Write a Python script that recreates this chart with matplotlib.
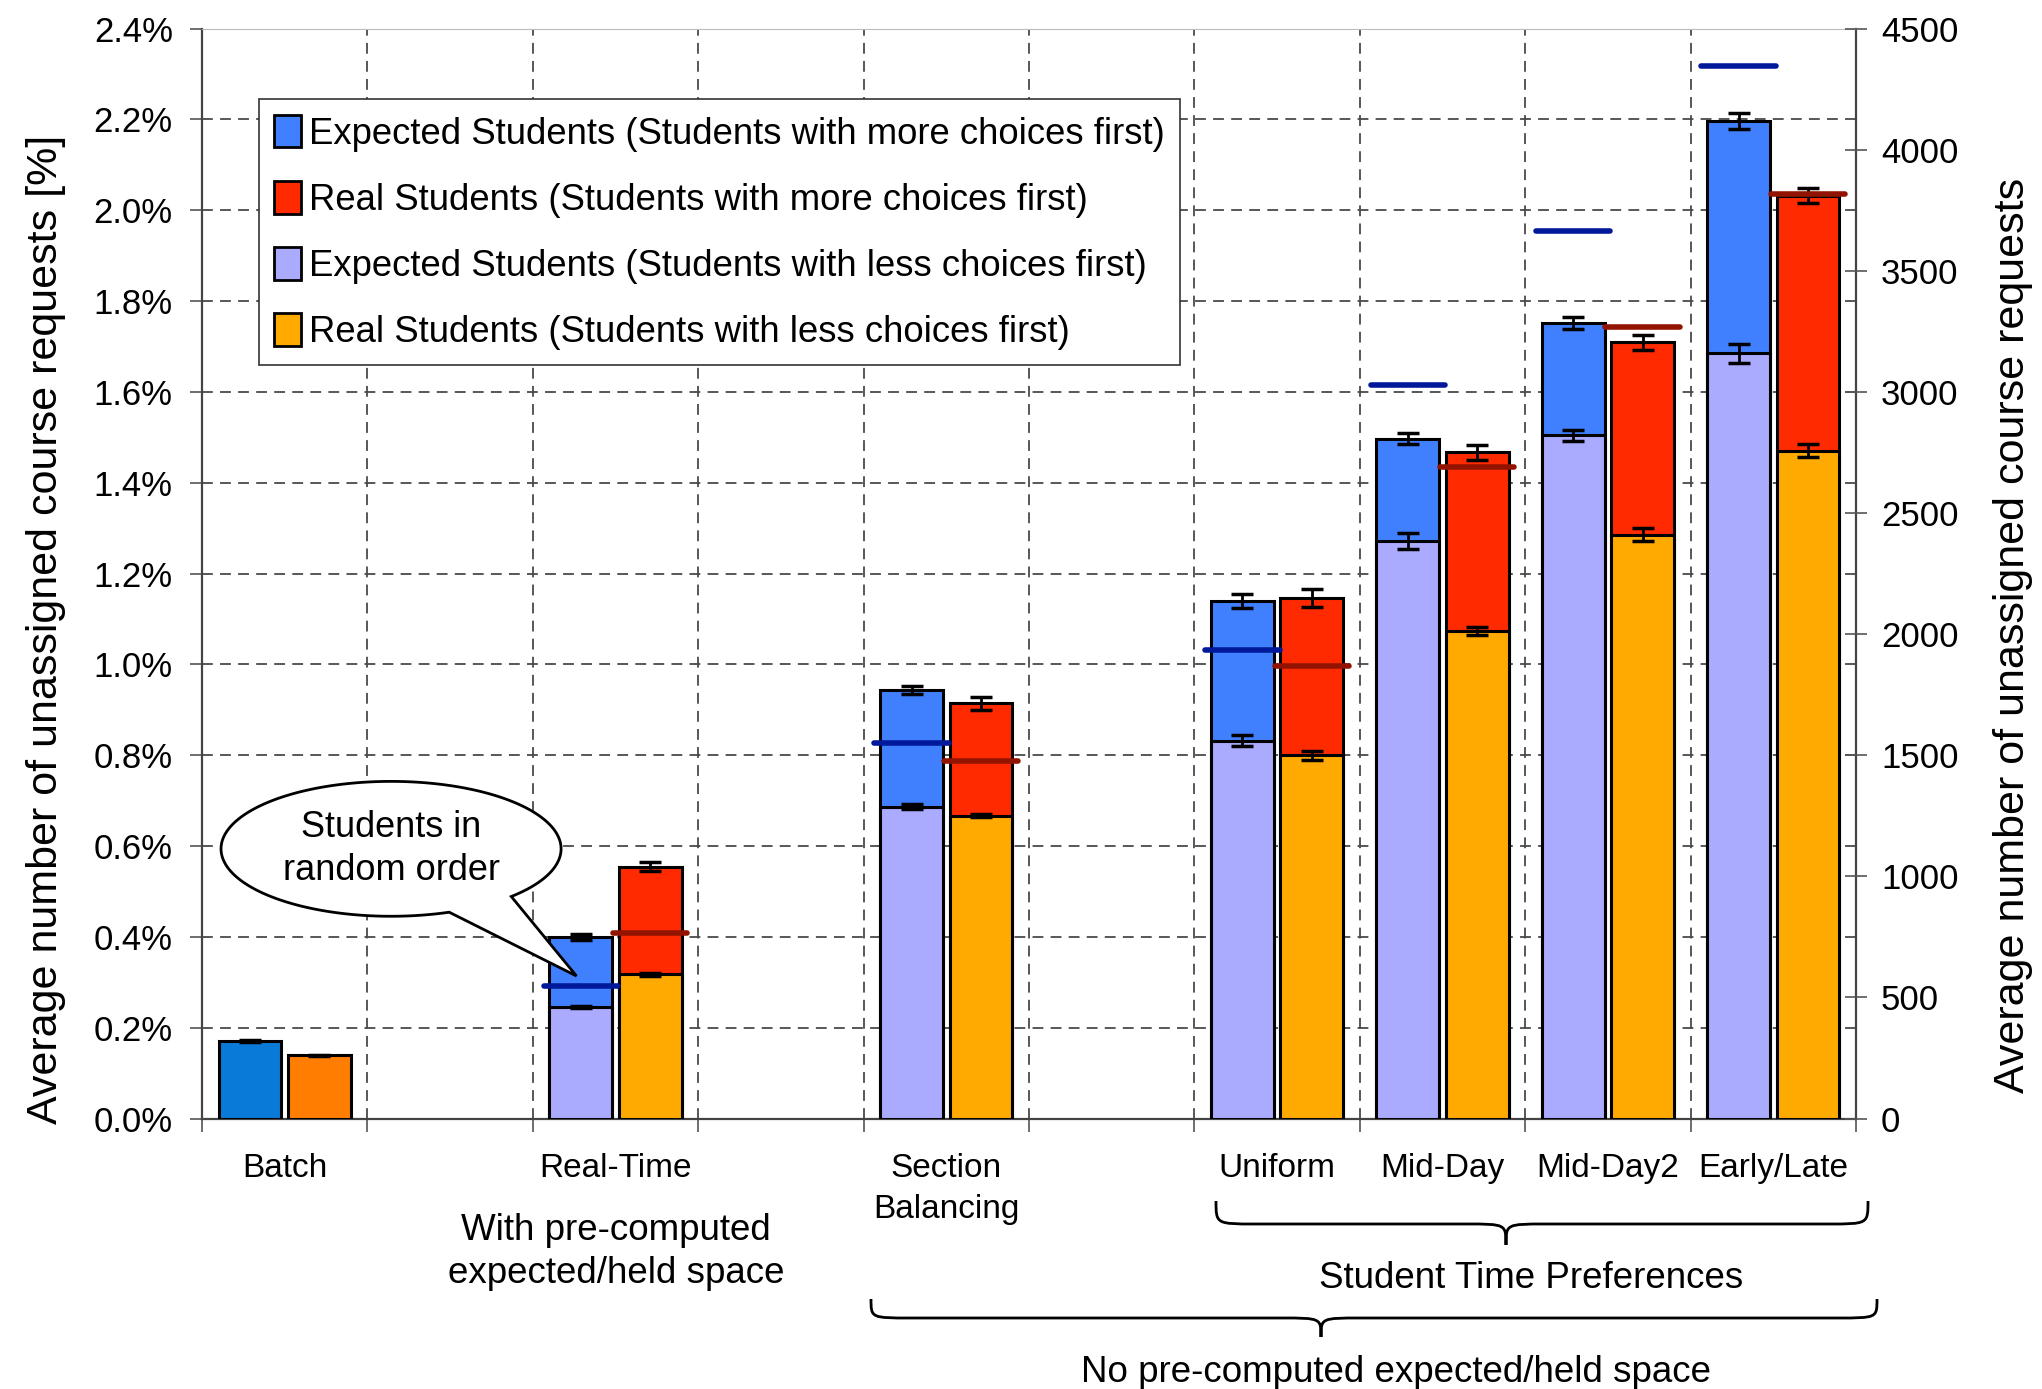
import matplotlib
matplotlib.use("Agg")
import matplotlib.pyplot as plt
import numpy as np
from matplotlib import font_manager
from matplotlib.patches import Patch, Polygon, PathPatch
from matplotlib.path import Path

installed = {f.name for f in font_manager.fontManager.ttflist}
NARROW = "Liberation Sans Narrow" if "Liberation Sans Narrow" in installed else "Liberation Sans"
REGULAR = "Liberation Sans"
plt.rcParams["font.family"] = [NARROW, "DejaVu Sans"]

# data (values in % of all course requests)
categories = ["Batch", "Real-Time", "Section\nBalancing", "Uniform", "Mid-Day", "Mid-Day2", "Early/Late"]
batch_expected = 0.171
batch_real = 0.139
batch_err = 0.002

exp_more = [0.400, 0.944, 1.140, 1.497, 1.751, 2.197]
exp_less = [0.246, 0.687, 0.832, 1.272, 1.505, 1.685]
real_more = [0.555, 0.914, 1.146, 1.467, 1.709, 2.032]
real_less = [0.318, 0.667, 0.800, 1.074, 1.286, 1.471]
exp_random = [0.293, 0.828, 1.031, 1.616, 1.955, 2.317]
real_random = [0.409, 0.787, 0.997, 1.435, 1.744, 2.036]

exp_more_err = [0.007, 0.008, 0.016, 0.012, 0.013, 0.018]
exp_less_err = [0.003, 0.005, 0.012, 0.018, 0.012, 0.021]
real_more_err = [0.009, 0.014, 0.020, 0.017, 0.016, 0.016]
real_less_err = [0.003, 0.004, 0.010, 0.009, 0.015, 0.015]

legend_labels = [
    "Expected Students (Students with more choices first)",
    "Real Students (Students with more choices first)",
    "Expected Students (Students with less choices first)",
    "Real Students (Students with less choices first)",
]

# layout: which of the 10 slots each category sits in
slots = [0, 2, 4, 6, 7, 8, 9]
c_blue, c_red, c_lav, c_orange = "#4080ff", "#ff2a00", "#aaaaff", "#ffaa00"
c_batch_blue, c_batch_orange = "#0a7ad8", "#ff7d00"
c_line_blue, c_line_red = "#00189a", "#921400"

W, H = 2042, 1389
fig = plt.figure(figsize=(W / 100, H / 100), dpi=100)
fig.patch.set_facecolor("white")
ax = fig.add_axes([202 / W, 1 - 1118.6 / H, (1856 - 202) / W, (1118.6 - 28.6) / H])
ax.set_facecolor("none")

off, bw = 0.21, 0.38
ekw = dict(ecolor="black", elinewidth=2, capsize=8, capthick=2.5)

bx = slots[0]
ax.bar(bx - off, batch_expected, bw, yerr=batch_err, color=c_batch_blue, edgecolor="black", linewidth=2.2, error_kw=ekw, zorder=3)
ax.bar(bx + off, batch_real, bw, yerr=batch_err, color=c_batch_orange, edgecolor="black", linewidth=2.2, error_kw=ekw, zorder=3)

xs = np.array(slots[1:], dtype=float)
ax.bar(xs - off, exp_more, bw, yerr=exp_more_err, color=c_blue, edgecolor="black", linewidth=2.2, error_kw=ekw, zorder=3)
ax.bar(xs - off, exp_less, bw, yerr=exp_less_err, color=c_lav, edgecolor="black", linewidth=2.2, error_kw=ekw, zorder=3)
ax.bar(xs + off, real_more, bw, yerr=real_more_err, color=c_red, edgecolor="black", linewidth=2.2, error_kw=ekw, zorder=3)
ax.bar(xs + off, real_less, bw, yerr=real_less_err, color=c_orange, edgecolor="black", linewidth=2.2, error_kw=ekw, zorder=3)

# students in random order
lw_half = 0.225
ax.hlines(exp_random, xs - off - lw_half, xs - off + lw_half, colors=c_line_blue, linewidth=4, capstyle="round", zorder=5)
ax.hlines(real_random, xs + off - lw_half, xs + off + lw_half, colors=c_line_red, linewidth=4, capstyle="round", zorder=5)

ax.set_xlim(-0.5, 9.5)
ax.set_ylim(0, 2.4)
ax.set_yticks(np.arange(0, 2.41, 0.2))
ax.set_yticklabels([f"{v:.1f}%" for v in np.arange(0, 2.41, 0.2)], fontsize=25)
ax.set_xticks(slots)
ax.set_xticklabels(categories, fontsize=24, linespacing=1.4)
ax.set_xticks(np.arange(-0.5, 10, 1), minor=True)
ax.tick_params(axis="x", which="major", length=0, pad=25)
ax.tick_params(axis="x", which="minor", length=9, width=1.2, color="#555555", direction="out")
ax.tick_params(axis="y", length=9, width=1.2, color="#555555", direction="out", pad=12)
ax.grid(True, which="major", axis="y", linestyle=(0, (6, 4)), color="#4a4a4a", linewidth=1.3, zorder=0)
ax.grid(True, which="minor", axis="x", linestyle=(0, (6, 4)), color="#4a4a4a", linewidth=1.3, zorder=0)
ax.set_axisbelow(True)
for s in ["left", "bottom", "right"]:
    ax.spines[s].set_color("#444444")
    ax.spines[s].set_linewidth(1.6)
ax.spines["top"].set_color("#bbbbbb")
ax.set_ylabel("Average number of unassigned course requests [%]", fontsize=31, family=[REGULAR, "DejaVu Sans"])
ax.yaxis.set_label_coords(-0.082, 0.449)

ax2 = ax.twinx()
ax2.set_ylim(0, 4500)
ax2.set_yticks(np.arange(0, 4501, 500))
ax2.set_yticklabels([str(v) for v in range(0, 4501, 500)], fontsize=25)
ax2.tick_params(axis="y", length=16, width=1.2, color="#555555", direction="inout", pad=10)
for s in ax2.spines.values():
    s.set_visible(False)
ax2.set_ylabel("Average number of unassigned course requests", fontsize=31, family=[REGULAR, "DejaVu Sans"])
ax2.yaxis.set_label_coords(1.083, 0.443)

handles = [Patch(facecolor=c, edgecolor="black", linewidth=2) for c in [c_blue, c_red, c_lav, c_orange]]
leg = ax.legend(handles, legend_labels, loc="upper left", bbox_to_anchor=(0.0345, 0.935), fontsize=26.3,
                frameon=True, fancybox=False, framealpha=1, edgecolor="#333333", borderaxespad=0,
                handlelength=0.72, handleheight=1.0, handletextpad=0.22, labelspacing=0.8, borderpad=0.42)
leg.get_frame().set_linewidth(1.2)
leg.set_zorder(10)

# speech balloon
cx, cy, a, b = 0.643, 0.594, 1.028, 0.1485
tip = (1.764, 0.314)
th = np.radians(np.linspace(-45, 290, 200))
pts = np.column_stack([cx + a * np.cos(th), cy + b * np.sin(th)])
pts = np.vstack([pts, tip])
ax.add_patch(Polygon(pts, closed=True, facecolor="white", edgecolor="black", linewidth=2, zorder=8))
ax.text(cx, cy, "Students in\nrandom order", ha="center", va="center", fontsize=26,
        family=[REGULAR, "DejaVu Sans"], linespacing=1.3, zorder=9)


def brace(x0, x1, tip_x, y_top, y_mid, y_tip):
    r = 40
    verts = [(x0, y_top), (x0, y_mid), (x0, y_mid), (x0 + r, y_mid),
             (tip_x - r, y_mid), (tip_x, y_mid), (tip_x, y_mid), (tip_x, y_tip),
             (tip_x, y_mid), (tip_x, y_mid), (tip_x + r, y_mid),
             (x1 - r, y_mid), (x1, y_mid), (x1, y_mid), (x1, y_top)]
    codes = [Path.MOVETO, Path.CURVE4, Path.CURVE4, Path.CURVE4,
             Path.LINETO, Path.CURVE4, Path.CURVE4, Path.CURVE4,
             Path.CURVE4, Path.CURVE4, Path.CURVE4,
             Path.LINETO, Path.CURVE4, Path.CURVE4, Path.CURVE4]
    verts = [(x / W, 1 - y / H) for x, y in verts]
    fig.add_artist(PathPatch(Path(verts, codes), facecolor="none", edgecolor="black", linewidth=2,
                             transform=fig.transFigure, clip_on=False))


brace(1216, 1868, 1506, 1201, 1224, 1245)
brace(871, 1877, 1321, 1299, 1318, 1337)

fig.text(616 / W, 1 - 1252 / H, "With pre-computed\nexpected/held space", ha="center", va="center", fontsize=26.5, linespacing=1.3)
fig.text(1531 / W, 1 - 1279 / H, "Student Time Preferences", ha="center", va="center", fontsize=26.5)
fig.text(1396 / W, 1 - 1373 / H, "No pre-computed expected/held space", ha="center", va="center", fontsize=26.5)

fig.savefig("out.png", dpi=100)
